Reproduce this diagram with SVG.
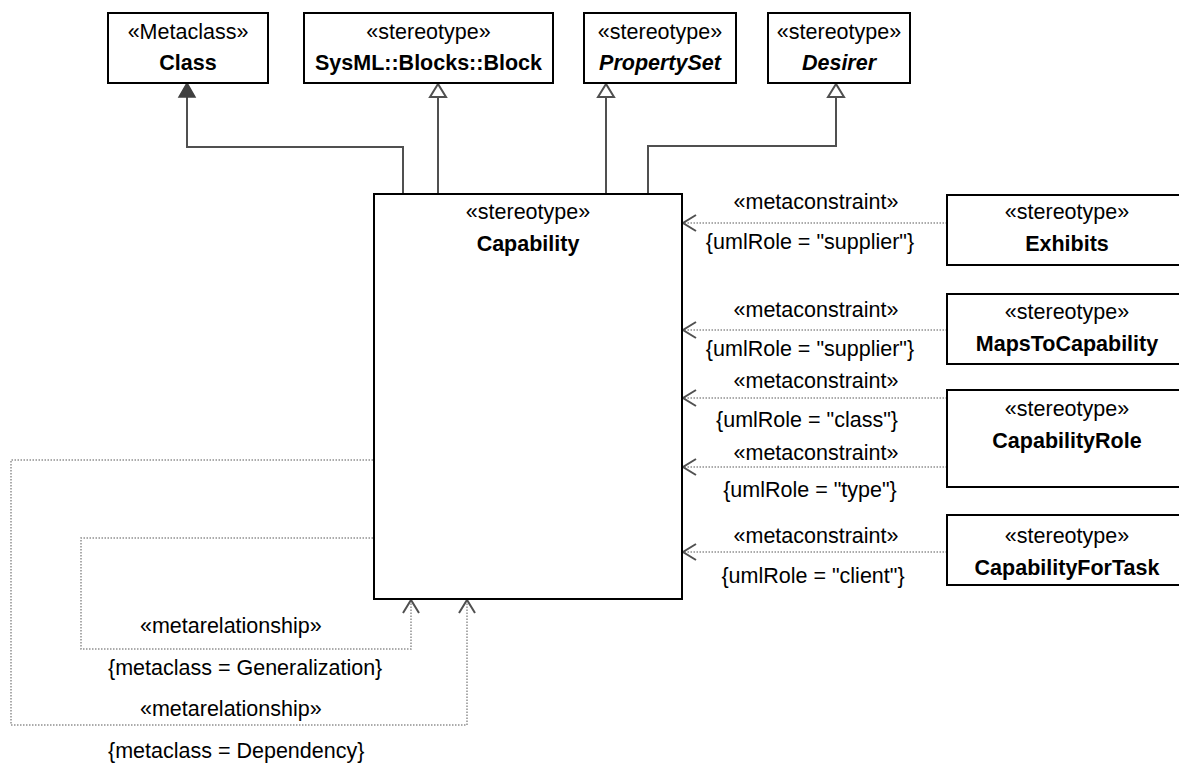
<svg xmlns="http://www.w3.org/2000/svg" width="1179" height="764" viewBox="0 0 1179 764">
<defs>
<style>
.box{fill:#fff;stroke:#000;stroke-width:2}
.t{font-family:"Liberation Sans",Arial,sans-serif;font-size:21.5px;fill:#000}
.c{text-anchor:middle}
.b{font-weight:bold}
.i{font-style:italic}
.gen{fill:none;stroke:#505050;stroke-width:2}
.dot{fill:none;stroke:#909090;stroke-width:1.5;stroke-dasharray:1.5 1.5}
.hollow{fill:#fff;stroke:#505050;stroke-width:2;stroke-linejoin:miter}
.filled{fill:#404040;stroke:#404040;stroke-width:1.5}
.open{fill:none;stroke:#505050;stroke-width:2}
</style>
</defs>
<rect width="1179" height="764" fill="#fff"/>
<g id="connectors">
<path class="gen" d="M403,194 V147 H187 V96"/>
<polygon class="filled" points="187,83 179,97 195,97"/>
<path class="gen" d="M438,194 V97"/>
<polygon class="hollow" points="438,84 430,97 446,97"/>
<path class="gen" d="M606,194 V97"/>
<polygon class="hollow" points="606,84 598,97 614,97"/>
<path class="gen" d="M648,194 V146 H836 V97"/>
<polygon class="hollow" points="836,84 828,97 844,97"/>
<path class="dot" d="M947,223 H683"/>
<path class="open" d="M696,215 L683,223 L696,231"/>
<path class="dot" d="M947,330 H683"/>
<path class="open" d="M696,322 L683,330 L696,338"/>
<path class="dot" d="M947,398 H683"/>
<path class="open" d="M696,390 L683,398 L696,406"/>
<path class="dot" d="M947,467 H683"/>
<path class="open" d="M696,459 L683,467 L696,475"/>
<path class="dot" d="M947,552 H683"/>
<path class="open" d="M696,544 L683,552 L696,560"/>
<path class="dot" d="M373,538 H81 V649 H411 V601"/>
<path class="open" d="M403,613 L411,600 L419,613"/>
<path class="dot" d="M373,460 H11 V725 H467 V601"/>
<path class="open" d="M459,613 L467,600 L475,613"/>
<text class="t c" x="816" y="209">«metaconstraint»</text>
<text class="t c" x="810" y="249">{umlRole = "supplier"}</text>
<text class="t c" x="816" y="317">«metaconstraint»</text>
<text class="t c" x="810" y="356">{umlRole = "supplier"}</text>
<text class="t c" x="816" y="388">«metaconstraint»</text>
<text class="t c" x="807" y="427">{umlRole = "class"}</text>
<text class="t c" x="816" y="460">«metaconstraint»</text>
<text class="t c" x="810" y="497">{umlRole = "type"}</text>
<text class="t c" x="816" y="543">«metaconstraint»</text>
<text class="t c" x="813" y="583">{umlRole = "client"}</text>
<text class="t" x="140" y="633">«metarelationship»</text>
<text class="t" x="108" y="675">{metaclass = Generalization}</text>
<text class="t" x="140" y="716">«metarelationship»</text>
<text class="t" x="108" y="758">{metaclass = Dependency}</text>
</g>
<g id="class">
<rect class="box" x="108" y="13" width="160" height="70"/>
<text class="t c" x="188" y="39">«Metaclass»</text>
<text class="t c b" x="188" y="70">Class</text>
</g>
<g id="block">
<rect class="box" x="304" y="13" width="249" height="70"/>
<text class="t c" x="428.5" y="39">«stereotype»</text>
<text class="t c b" x="428.5" y="70">SysML::Blocks::Block</text>
</g>
<g id="propertyset">
<rect class="box" x="584" y="13" width="152" height="70"/>
<text class="t c" x="660" y="39">«stereotype»</text>
<text class="t c b i" x="660" y="70">PropertySet</text>
</g>
<g id="desirer">
<rect class="box" x="768" y="13" width="142" height="70"/>
<text class="t c" x="839" y="39">«stereotype»</text>
<text class="t c b i" x="839" y="70">Desirer</text>
</g>
<g id="capability">
<rect class="box" x="374" y="194" width="308" height="405"/>
<text class="t c" x="528" y="219">«stereotype»</text>
<text class="t c b" x="528" y="251">Capability</text>
</g>
<g id="exhibits">
<rect class="box" x="947" y="195" width="240" height="70"/>
<text class="t c" x="1067" y="219">«stereotype»</text>
<text class="t c b" x="1067" y="251">Exhibits</text>
</g>
<g id="mapstocapability">
<rect class="box" x="947" y="294" width="240" height="70"/>
<text class="t c" x="1067" y="319">«stereotype»</text>
<text class="t c b" x="1067" y="351">MapsToCapability</text>
</g>
<g id="capabilityrole">
<rect class="box" x="947" y="390" width="240" height="97"/>
<text class="t c" x="1067" y="416">«stereotype»</text>
<text class="t c b" x="1067" y="448">CapabilityRole</text>
</g>
<g id="capabilityfortask">
<rect class="box" x="947" y="515" width="240" height="70"/>
<text class="t c" x="1067" y="543">«stereotype»</text>
<text class="t c b" x="1067" y="575">CapabilityForTask</text>
</g>
</svg>
